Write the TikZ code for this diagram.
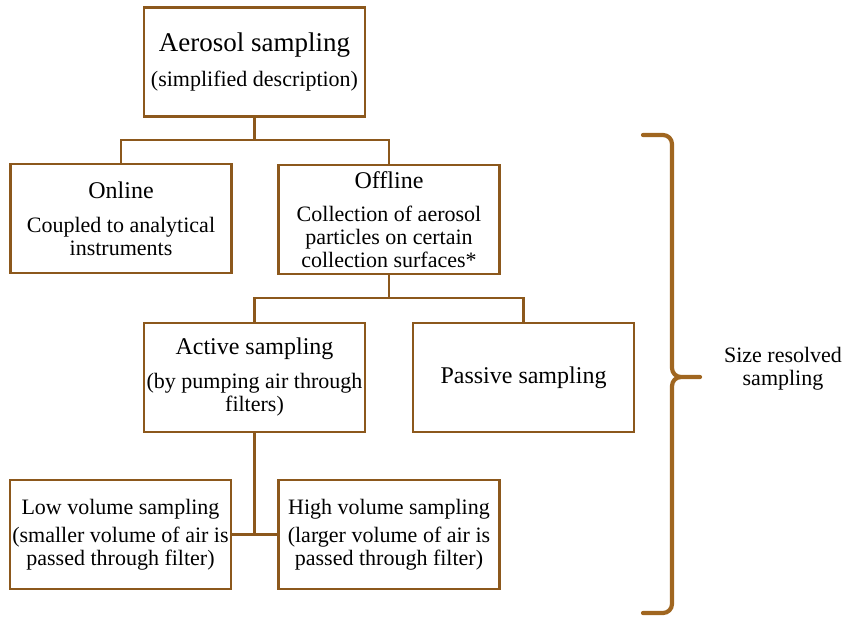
\documentclass[tikz,border=0pt]{standalone}
\usepackage{fontspec}
\setmainfont{Liberation Serif}
\definecolor{boxbrown}{RGB}{140,88,28}
\definecolor{bracebrown}{RGB}{160,102,32}
\begin{document}
\begin{tikzpicture}[x=1pt,y=-1pt,
  box/.style={draw=boxbrown,line width=2.3pt,minimum width=221pt,minimum height=109pt,
    align=center,inner sep=0pt,font=\fontsize{22}{23}\selectfont},
  link/.style={draw=boxbrown,line width=2.3pt}]
\useasboundingbox (0,0) rectangle (852,619);
\newcommand{\hdA}[1]{{\fontsize{27}{23}\selectfont #1}}
\newcommand{\hdB}[1]{{\fontsize{24}{23}\selectfont #1}}
\node[box] (top) at (254.5,62) {\hdA{Aerosol sampling}\\[12pt](simplified description)};
\node[box] (online) at (121,218.5) {\hdB{Online}\\[11pt]Coupled to analytical\\instruments};
\node[box] (offline) at (389,219.5) {\hdB{Offline}\\[10pt]Collection of aerosol\\particles on certain\\collection surfaces*};
\node[box] (active) at (254.5,377.5) {\hdB{Active sampling}\\[11pt](by pumping air through\\filters)};
\node[box] (passive) at (523.5,377.5) {\hdB{Passive sampling}};
\node[box] (low) at (120.5,534.5) {Low volume sampling\\[5pt](smaller volume of air is\\passed through filter)};
\node[box] (high) at (389,534.5) {High volume sampling\\[5pt](larger volume of air is\\passed through filter)};
\coordinate (j1) at (254.5,140);
\coordinate (j2) at (389,298);
\draw[link] (top.south) -- (j1);
\draw[link] (j1) -| (online.north);
\draw[link] (j1) -| (offline.north);
\draw[link] (offline.south) -- (j2);
\draw[link] (j2) -| (active.north);
\draw[link] (j2) -| (passive.north);
\coordinate (j3) at (active.south |- low.east);
\draw[link] (active.south) -- (j3);
\draw[link] (low.east) -- (high.west);
\coordinate (bt) at (643,135);
\coordinate (bm) at (700,377);
\coordinate (bb) at (643,613);
\draw[bracebrown,line width=4.2pt,line cap=round,line join=round]
  (bt) -- (663,135) to[out=0,in=90] (672,144) -- (672,368)
  to[out=-90,in=180] (681,377) -- (bm) -- (681,377)
  to[out=180,in=90] (672,386) -- (672,604) to[out=-90,in=0] (663,613) -- (bb);
\node[font=\fontsize{22}{23}\selectfont,align=center] (lbl) at (783,369) {Size resolved\\sampling};
\end{tikzpicture}
\end{document}
